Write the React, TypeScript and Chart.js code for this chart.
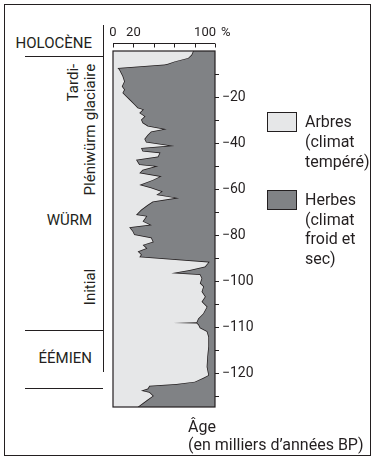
import React, { useEffect, useRef } from "react";
import { Chart, registerables } from "chart.js";

Chart.register(...registerables);

// ---- Data (age in thousands of years, % of tree pollen) ----
const ages = [
  0, -1.6, -3.0, -4.5, -5.5, -5.9, -7.4, -8.1, -11.0, -13.2, -15.4, -16.8, -18.2, -19.7,
  -21.1, -23.3, -24.8, -25.5, -26.9, -28.4, -29.8, -31.3, -32.7, -33.9, -34.9, -36.3,
  -38.2, -39.7, -41.1, -42.1, -43.6, -44.3, -45.8, -47.2, -49.4, -50.1, -51.5, -53.0,
  -54.5, -55.9, -58.1, -59.5, -61.0, -62.4, -63.8, -65.3, -66.7, -68.9, -71.1, -71.8,
  -74.0, -75.4, -76.4, -78.3, -79.8, -81.2, -82.7, -84.1, -85.5, -87.0, -88.4, -89.5,
  -91.7, -93.5, -95.0, -96.4, -97.1, -98.6, -100.4, -101.1, -102.2, -103.3, -104.4,
  -105.5, -106.9, -108.0, -108.8, -109.0, -109.1, -109.4, -110.1, -110.9, -112.0,
  -114.1, -116.3, -118.5, -120.3, -120.8, -121.7, -122.2, -122.6, -123.2, -123.7,
  -124.1, -124.8, -125.6, -126.4, -127.2,
];
const arbresPct = [
  78.5, 76.9, 73.6, 60.4, 53.8, 50.5, 4.3, 5.9, 9.2, 10.9, 8.6, 10.9, 9.2, 12.6,
  15.8, 20.8, 24.1, 29.0, 25.7, 30.7, 27.4, 29.0, 34.0, 48.8, 37.3, 34.0,
  30.7, 32.4, 54.0, 27.4, 29.0, 45.5, 43.9, 22.5, 25.7, 40.6, 29.0, 25.7,
  45.5, 38.9, 25.7, 37.3, 47.2, 42.3, 60.4, 38.9, 34.0, 27.4, 22.5, 32.4,
  29.0, 35.6, 15.8, 19.1, 20.8, 37.3, 38.9, 29.0, 32.4, 24.1, 27.4, 25.7,
  93.4, 90.1, 75.2, 57.1, 85.1, 86.8, 85.1, 88.4, 86.8, 90.1, 86.8,
  91.8, 88.4, 83.5, 81.9, 58.7, 81.9, 83.5, 85.1, 91.8, 93.4,
  93.4, 92.4, 91.8, 93.4, 89.1, 80.2, 62.1, 35.6, 34.0, 27.4,
  35.6, 38.9, 34.0, 29.0, 24.1,
];
const labeledAges = [-20, -40, -60, -80, -100, -110, -120];
const minorAges = [-10, -30, -50, -70, -90, -105, -115, -125];
const oldestAge = -127.2;
const pctTicks = [0, 20, 40, 60, 80, 100];
const pctTickLabels = ["0", "20", "", "", "", "100"];
const seriesNames = ["Arbres", "Herbes"];

// ---- Style ----
const INK = "#231f20";
const LIGHT = "#e6e7e8";
const DARK = "#808285";
const FONT = "Roboto, 'DejaVu Sans', sans-serif";

// Age axis of the core is not linear: 10 ka per step down to -100, then 5 ka per step
function ageToPos(age: number) {
  const a = -age;
  return a <= 100 ? a / 10 : 10 + (a - 100) / 5;
}

const topAxisPlugin = {
  id: "topAxis",
  afterDatasetsDraw(chart: any) {
    const { ctx, chartArea, scales } = chart;
    const x = scales.x;
    ctx.save();
    // frame of the plot
    ctx.strokeStyle = INK;
    ctx.lineWidth = 1.2;
    ctx.strokeRect(chartArea.left, chartArea.top, chartArea.right - chartArea.left, chartArea.bottom - chartArea.top);
    // top % axis
    const y0 = Math.round(chartArea.top) - 8 + 0.5;
    ctx.lineWidth = 1;
    ctx.beginPath();
    ctx.moveTo(x.getPixelForValue(0), y0);
    ctx.lineTo(x.getPixelForValue(100), y0);
    pctTicks.forEach((v) => {
      const px = Math.round(x.getPixelForValue(v)) + 0.5;
      ctx.moveTo(px, y0);
      ctx.lineTo(px, y0 + 4);
    });
    ctx.stroke();
    ctx.font = `13px ${FONT}`;
    ctx.fillStyle = INK;
    ctx.textBaseline = "middle";
    const ly = chartArea.top - 18;
    pctTicks.forEach((v, i) => {
      const lab = pctTickLabels[i];
      if (!lab) return;
      const px = x.getPixelForValue(v);
      if (v === 100) {
        ctx.textAlign = "right";
        ctx.fillText(lab, px + 1, ly);
        ctx.textAlign = "left";
        ctx.fillText("%", px + 6, ly);
      } else {
        ctx.textAlign = "center";
        ctx.fillText(lab, px, ly);
      }
    });
    ctx.restore();
  },
};

function PollenChart() {
  const ref = useRef<HTMLCanvasElement>(null);
  useEffect(() => {
    if (!ref.current) return;
    const pts = ages.map((a, i) => ({ x: arbresPct[i], y: ageToPos(a) }));
    const tickAges = [...labeledAges, ...minorAges].sort((a, b) => b - a);
    const chart = new Chart(ref.current, {
      type: "line",
      data: {
        datasets: [
          {
            label: seriesNames[0],
            data: pts,
            fill: { value: 0 },
            backgroundColor: LIGHT,
            borderWidth: 0,
            borderColor: "rgba(0,0,0,0)",
            pointRadius: 0,
            tension: 0,
          },
          {
            label: seriesNames[1],
            data: pts,
            fill: { value: 100 },
            backgroundColor: DARK,
            borderColor: INK,
            borderWidth: 1.5,
            pointRadius: 0,
            tension: 0,
          },
        ],
      } as any,
      options: {
        indexAxis: "y",
        animation: false,
        responsive: false,
        devicePixelRatio: 1,
        layout: { padding: { left: 113, top: 51, right: 119, bottom: 53 } },
        plugins: { legend: { display: false }, tooltip: { enabled: false } },
        scales: {
          x: { type: "linear", min: 0, max: 100, display: false },
          y: {
            type: "linear",
            position: "right",
            reverse: true,
            min: 0,
            max: ageToPos(oldestAge),
            afterBuildTicks: (scale: any) => {
              scale.ticks = tickAges.map((a) => ({ value: ageToPos(a) }));
            },
            afterFit: (scale: any) => {
              scale.width = 40;
            },
            border: { display: false },
            grid: {
              drawOnChartArea: false,
              drawTicks: true,
              tickLength: 4,
              tickColor: INK,
              color: INK,
              lineWidth: 1,
            },
            ticks: {
              autoSkip: false,
              padding: 3,
              color: INK,
              font: { family: FONT, size: 14 },
              callback: (value: any) => {
                const hit = labeledAges.find((a) => Math.abs(ageToPos(a) - Number(value)) < 1e-6);
                return hit === undefined ? "" : "\u2212" + String(-hit);
              },
            },
          },
        },
      } as any,
      plugins: [topAxisPlugin],
    });
    return () => chart.destroy();
  }, []);
  return (
    <canvas
      ref={ref}
      width={374}
      height={460}
      style={{ position: "absolute", left: 0, top: 0, width: 374, height: 460 }}
    />
  );
}

const txt: React.CSSProperties = {
  position: "absolute",
  fontFamily: FONT,
  color: INK,
  whiteSpace: "pre",
};

function Rot({ cx, cy, children, lh = 17 }: { cx: number; cy: number; children: any; lh?: number }) {
  return (
    <div
      style={{
        ...txt,
        left: cx,
        top: cy,
        fontSize: 15,
        lineHeight: `${lh}px`,
        textAlign: "right",
        transform: "translate(-50%, -50%) rotate(-90deg)",
      }}
    >
      {children}
    </div>
  );
}

function Line({ x, y, w, h }: { x: number; y: number; w: number; h: number }) {
  return <div style={{ position: "absolute", left: x, top: y, width: w, height: h, background: INK }} />;
}

export default function App() {
  return (
    <div style={{ position: "absolute", left: 0, top: 0, width: 374, height: 460, background: "#fff", overflow: "hidden" }}>
      {/* outer frame */}
      <div
        style={{
          position: "absolute",
          left: 4,
          top: 4,
          width: 367,
          height: 452,
          border: `1px solid ${INK}`,
          boxSizing: "border-box",
        }}
      />
      {/* period column lines */}
      <Line x={103} y={25} w={1} h={347} />
      <Line x={25} y={56} w={78} h={1} />
      <Line x={25} y={330} w={78} h={1} />
      <Line x={25} y={388} w={78} h={1} />

      <div style={{ ...txt, left: 0, width: 92, textAlign: "right", top: 35.5, fontSize: 15, lineHeight: "15px" }}>HOLOCÈNE</div>
      <div style={{ ...txt, left: 0, width: 92, textAlign: "right", top: 212.5, fontSize: 15, lineHeight: "15px" }}>WÜRM</div>
      <div style={{ ...txt, left: 0, width: 92, textAlign: "right", top: 350.5, fontSize: 15, lineHeight: "15px" }}>ÉÉMIEN</div>

      <Rot cx={81.5} cy={91.5}>{"Tardi-\nglaciaire"}</Rot>
      <Rot cx={90} cy={160}>Pléniwürm</Rot>
      <Rot cx={90} cy={286.5}>Initial</Rot>

      <PollenChart />

      {/* legend */}
      <div style={{ position: "absolute", left: 267, top: 112, width: 30, height: 20, background: LIGHT, border: `1px solid ${INK}`, boxSizing: "border-box" }} />
      <div style={{ ...txt, left: 305, top: 111.7, fontSize: 16, lineHeight: "20px" }}>{"Arbres\n(climat\ntempéré)"}</div>
      <div style={{ position: "absolute", left: 267, top: 190, width: 30, height: 20, background: DARK, border: `1px solid ${INK}`, boxSizing: "border-box" }} />
      <div style={{ ...txt, left: 305, top: 190.2, fontSize: 16, lineHeight: "19.5px" }}>{"Herbes\n(climat\nfroid et\nsec)"}</div>

      {/* axis title */}
      <div style={{ ...txt, left: 188, top: 418, fontSize: 16, lineHeight: "18px" }}>{"Âge\n(en milliers d’années BP)"}</div>
    </div>
  );
}
